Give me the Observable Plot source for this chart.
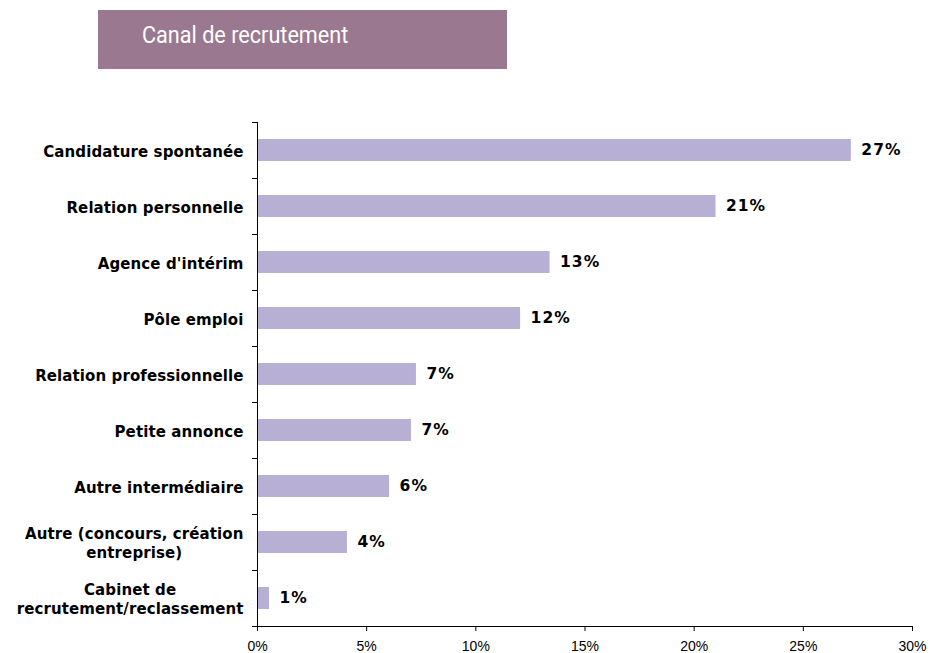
<!DOCTYPE html>
<html><head><meta charset="utf-8">
<script src="https://cdn.jsdelivr.net/npm/d3@7"></script>
<script src="https://cdn.jsdelivr.net/npm/@observablehq/plot@0.6"></script>
<style>
body{margin:0;background:#fff;}
#wrap{position:relative;width:930px;height:653px;}
#title{position:absolute;left:98px;top:10px;width:409px;height:59px;background:#9a7890;}
#title span{position:absolute;left:44px;top:13px;color:#fff;font-family:"Liberation Sans Narrow","Arial Narrow",Roboto,sans-serif;font-size:23px;line-height:26px;white-space:nowrap;transform:scaleX(0.94);transform-origin:0 0;}
#chart{position:absolute;left:0;top:0;}
</style></head>
<body>
<div id="wrap"><div id="chart"></div><div id="title"><span>Canal de recrutement</span></div></div>
<script>
const categories = ["Candidature spontanée","Relation personnelle","Agence d'intérim","Pôle emploi","Relation professionnelle","Petite annonce","Autre intermédiaire","Autre (concours, création\nentreprise)","Cabinet de\nrecrutement/reclassement"];
const values = [27.2, 21.0, 13.4, 12.05, 7.28, 7.05, 6.05, 4.12, 0.55];
const valueLabels = ["27%","21%","13%","12%","7%","7%","6%","4%","1%"];
const xTicks = [0,5,10,15,20,25,30];

const data = categories.map((c,i)=>({cat:c, v:values[i], label:valueLabels[i]}));

function axesLines(index, scales, channels, dims) {
  const y = scales.y, x = scales.x;
  let bw;
  if (y && typeof y.bandwidth === "function") bw = y.bandwidth();
  else if (y && typeof y.bandwidth === "number") bw = y.bandwidth;
  else if (scales.scales && scales.scales.y) bw = scales.scales.y.bandwidth;
  const step = y(categories[1]) - y(categories[0]);
  const off = (step - bw)/2;
  const bounds = categories.map(c => y(c) - off);
  bounds.push(y(categories[categories.length-1]) + bw + off);
  const x0 = x(0);
  const g = d3.create("svg:g").attr("stroke","#000").attr("stroke-width",1).attr("fill","none");
  let p = "";
  for (const b of bounds) p += `M${x0-5},${b}H${x0}`;
  const yb = dims.height - dims.marginBottom;
  p += `M${x0},${dims.marginTop}V${yb}H${x(30)}`;
  g.append("path").attr("d", p).attr("shape-rendering","crispEdges");
  return g.node();
}

const plot = Plot.plot({
  width: 930, height: 653,
  marginLeft: 257, marginRight: 18, marginTop: 122, marginBottom: 27,
  style: {fontFamily: "'Liberation Sans', Arial, sans-serif", fontSize: "14px", color:"#000", background:"transparent"},
  x: {domain:[0,30], label: null},
  y: {domain: categories, paddingInner: 0.6, paddingOuter: 0.3, axis: null},
  marks: [
    Plot.barX(data, {x:"v", y:"cat", fill:"#b8b0d4"}),
    Plot.axisX({ticks: xTicks, tickSize: 5, tickPadding: 10, tickFormat: d => d + "%", fontSize: 14, label: null,
      fontFamily: "'Liberation Sans', Arial, sans-serif"}),
    Plot.text(data, {x:0, y:"cat", text:"cat", textAnchor:"end", dx:-14, fontWeight:"bold", fontSize:15, lineHeight:1.27,
      fontFamily:"Verdana, 'DejaVu Sans', sans-serif", fill:"#000"}),
    Plot.text(data, {x:"v", y:"cat", text:"label", textAnchor:"start", dx:10, fontWeight:"bold", fontSize:15.5,
      fontFamily:"Verdana, 'DejaVu Sans', sans-serif", fill:"#000"}),
    axesLines
  ]
});
document.getElementById("chart").append(plot);
const texts = plot.querySelectorAll("g[aria-label='text']");
if (texts[0]) {
  texts[0].setAttribute("letter-spacing", "0.1");
  texts[0].querySelectorAll("text").forEach(t => {
    const spans = t.querySelectorAll("tspan");
    if (spans.length > 1) {
      let maxW = 0;
      spans.forEach(s => { maxW = Math.max(maxW, s.getComputedTextLength()); });
      t.setAttribute("text-anchor", "middle");
      spans.forEach(s => s.setAttribute("x", -maxW/2));
    }
  });
}
if (texts[1]) texts[1].setAttribute("letter-spacing", "1");
plot.querySelectorAll("g[aria-label='x-axis tick label']").forEach(g => {
  g.setAttribute("font-size", "14");
  g.style.fontSize = "14px";
  g.setAttribute("font-family", "'Liberation Sans', Arial, sans-serif");
});
</script>
</body></html>
